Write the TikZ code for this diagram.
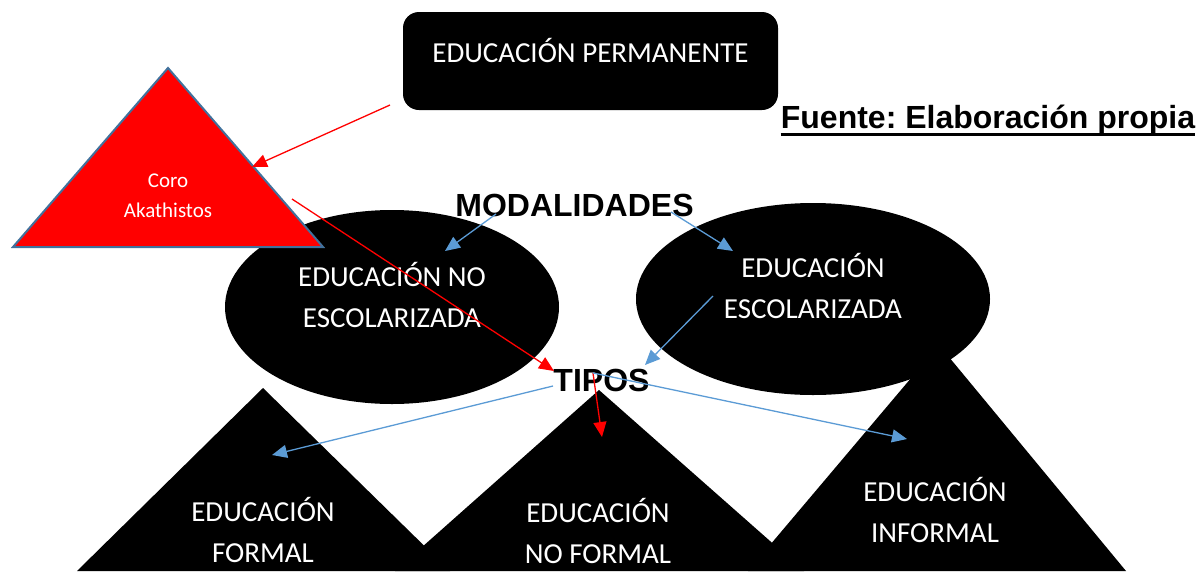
\documentclass[tikz,border=0pt]{standalone}
\usepackage{fontspec}
\setmainfont{Carlito}
\newfontfamily\arialfont{Liberation Sans}
\usepackage{xcolor}
\usetikzlibrary{shapes,shapes.geometric,arrows.meta,positioning,calc}
\definecolor{arrowblue}{HTML}{5B9BD5}
\definecolor{edgeblue}{HTML}{41719C}
\frenchspacing

\begin{document}
\begin{tikzpicture}[
    x=1pt, y=-1pt,
    whitetext/.style={text=white, align=center, inner sep=0pt, font=\fontsize{29}{41}\selectfont},
    smalltext/.style={text=white, align=center, inner sep=0pt, font=\fontsize{21}{30}\selectfont},
    heading/.style={font=\arialfont\bfseries\fontsize{32}{38}\selectfont, text=black, inner sep=0pt, anchor=base},
    blackoval/.style={ellipse, fill=black, inner sep=0pt},
    redarrow/.style={draw=red, line width=1.3pt, -{Triangle[length=15pt,width=13pt]}},
    bluearrow/.style={draw=arrowblue, line width=1.3pt, -{Triangle[length=15pt,width=13pt]}}
]
    \useasboundingbox (0,0) rectangle (1199,571);

    % Tipos (black triangles)
    \fill[black] (263,388) -- (450,571) -- (77,571) -- cycle;
    \fill[black] (599,390) -- (804,571) -- (395,571) -- cycle;
    \fill[black] (939,345) -- (1126,571) -- (748,571) -- cycle;

    % Modalidades
    \node[blackoval, minimum width=334pt, minimum height=194pt] (noesc) at (392,307) {};
    \node[blackoval, minimum width=354pt, minimum height=192pt] (esc) at (813,299) {};

    % Root
    \node[fill=black, rounded corners=16pt, minimum width=375pt, minimum height=98pt,
          text=white, font=\fontsize{29}{36}\selectfont, text height=20pt, text depth=17pt]
          (perm) at (590.5,61) {EDUCACIÓN PERMANENTE};
    \node[heading] (fuente) at (988,128) {Fuente: Elaboración propia};
    \draw[line width=3pt] ([yshift=-6.5pt]fuente.base west) -- ([yshift=-6.5pt]fuente.base east);

    % Coro
    \filldraw[fill=red, draw=edgeblue, line width=2pt] (168,68) -- (323,247) -- (13,247) -- cycle;
    \node[smalltext] (coro) at (168,196) {Coro\\Akathistos};

    % Labels
    \node[heading] (modal) at (574.5,216) {MODALIDADES};
    \node[heading] (tipos) at (601.5,391) {TIPOS};
    \node[whitetext] (noesclbl) at (392,295) {EDUCACIÓN NO\\ESCOLARIZADA};
    \node[whitetext] (esclbl) at (813,285.5) {EDUCACIÓN\\ESCOLARIZADA};
    \node[whitetext] (formal) at (263,530) {EDUCACIÓN\\FORMAL};
    \node[whitetext] (noformal) at (598,531) {EDUCACIÓN\\NO FORMAL};
    \node[whitetext] (informal) at (935,510) {EDUCACIÓN\\INFORMAL};

    % Arrow ends
    \coordinate (permout) at (390,105);
    \coordinate (coroin) at (252,167);
    \coordinate (coroout) at (292,199);
    \coordinate (tiposin) at (554,371);
    \coordinate (tiposmid) at (593,373);
    \coordinate (tiposleft) at (553,386);
    \coordinate (noformalin) at (602,437);
    \coordinate (modalleft) at (496,214);
    \coordinate (noescin) at (445,251);
    \coordinate (modalright) at (671,212);
    \coordinate (escin) at (733,251);
    \coordinate (escout) at (713,296);
    \coordinate (tiposright) at (645,365);
    \coordinate (formalin) at (272,455);
    \coordinate (informalin) at (907,439);

    % Edges
    \draw[redarrow] (permout) -- (coroin);
    \draw[redarrow] (coroout) -- (tiposin);
    \draw[redarrow] (tiposmid) -- (noformalin);
    \draw[bluearrow] (modalleft) -- (noescin);
    \draw[bluearrow] (modalright) -- (escin);
    \draw[bluearrow] (escout) -- (tiposright);
    \draw[bluearrow] (tiposleft) -- (formalin);
    \draw[bluearrow] (tiposmid) -- (informalin);

\end{tikzpicture}
\end{document}
